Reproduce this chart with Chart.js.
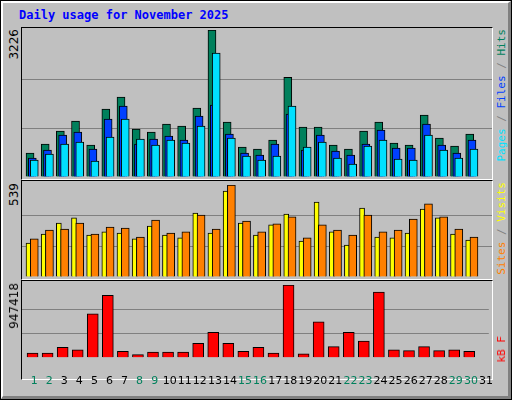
<!DOCTYPE html>
<html><head><meta charset="utf-8">
<script src="https://cdn.jsdelivr.net/npm/chart.js@4"></script>
<style>
  body { margin:0; background:#fff; }
  #wrap { position:relative; width:510px; height:398px; background:#c0c0c0; border:1px solid #000; overflow:hidden; }
  #wrap:before { content:''; position:absolute; left:0; top:0; right:0; bottom:0; border-top:2px solid #fff; border-left:2px solid #fff; border-right:3px solid #808080; border-bottom:3px solid #808080; pointer-events:none; }
  .title { position:absolute; left:18px; top:7px; font:bold 12px "DejaVu Sans Mono", monospace; color:#0000ff; }
  .panel { position:absolute; left:20px; width:470px; border-top:1px solid #000; border-left:1px solid #000; border-right:1px solid #fff; border-bottom:1px solid #fff; }
  canvas { position:absolute; }
  .ylab { position:absolute; left:6px; font:12px "DejaVu Sans", sans-serif; color:#000; writing-mode:vertical-rl; transform:rotate(180deg); }
  .rlab { position:absolute; left:494px; font:11px "DejaVu Sans Mono", monospace; writing-mode:vertical-rl; transform:rotate(180deg); white-space:nowrap; }
</style></head>
<body>
<div id="wrap">
  <div class="title">Daily usage for November 2025</div>
  <div class="panel" style="top:26px;height:151px"></div>
  <div class="panel" style="top:179px;height:98px"></div>
  <div class="panel" style="top:279px;height:98px"></div>
  <canvas id="c1" style="left:21px;top:29px;width:470px;height:147px"></canvas>
  <canvas id="c2" style="left:21px;top:184px;width:470px;height:92px"></canvas>
  <canvas id="c3" style="left:11px;top:284px;width:490px;height:112px"></canvas>
  <div class="ylab" style="top:28px">3226</div>
  <div class="ylab" style="top:182px">539</div>
  <div class="ylab" style="top:282px">947418</div>
  <div class="rlab" style="top:28px"><span style="color:#00e0ff">Pages</span><span style="color:#808080"> / </span><span style="color:#0040ff">Files</span><span style="color:#808080"> / </span><span style="color:#00805c">Hits</span></div>
  <div class="rlab" style="top:181px"><span style="color:#ff8000">Sites</span><span style="color:#808080"> / </span><span style="color:#ffff00">Visits</span></div>
  <div class="rlab" style="top:335px"><span style="color:#ff0000">kB F</span></div>
</div>
<script>
const days = Array.from({length: 31}, (_, i) => i + 1);
const weekendDays = [1, 2, 8, 9, 15, 16, 22, 23, 29, 30];
const hits  = [527,724,1009,1229,702,1492,1756,1053,988,1163,1119,1514,3226,1207,658,614,812,2187,1097,1097,702,614,1009,1207,746,702,1361,856,680,944];
const files = [417,593,922,988,614,1273,1558,724,834,900,812,1339,1580,944,527,483,724,1383,593,922,571,483,724,1031,636,636,1163,702,527,812];
const pages = [373,505,724,768,351,878,1273,834,702,812,746,1119,2721,856,461,373,461,1558,658,768,417,285,680,812,395,373,922,593,417,614];
const visits = [199,252,316,346,246,264,258,223,299,246,229,375,258,504,316,246,305,369,211,439,264,187,404,234,229,258,398,346,252,217];
const sites  = [223,275,281,316,252,293,287,234,334,258,264,363,281,539,328,264,311,352,229,305,275,246,363,264,275,340,428,352,281,234];
const kbytes = [62000,62000,135000,104000,573000,812000,83000,42000,73000,73000,73000,187000,333000,187000,83000,135000,62000,947418,52000,468000,146000,333000,219000,854000,104000,94000,146000,94000,104000,83000];
const yMax = [3226, 539, 947418];

const pts = (arr, off) => arr.map((v, i) => ({x: i + 1 + off, y: v}));
// lower order is drawn on top, so the front bar of each group gets order 0
const ds = (label, arr, off, color, w, order) => ({label, data: pts(arr, off), backgroundColor: color, borderColor: '#000', borderWidth: 1, borderSkipped: 'bottom', barThickness: w, grouped: false, order});

function makeChart(id, datasets, max, showX) {
  new Chart(document.getElementById(id), {
    type: 'bar',
    data: { datasets },
    options: {
      animation: false, responsive: false, maintainAspectRatio: false,
      layout: { padding: showX ? {left: 10, right: 10, top: 0, bottom: 0} : 0 },
      plugins: { legend: { display: false }, tooltip: { enabled: false } },
      scales: {
        x: {
          type: 'linear', min: 0.19, max: 31.19, offset: false,
          display: showX,
          grid: { display: false }, border: { display: false },
          afterBuildTicks: ax => { ax.ticks = days.map(d => ({value: d})); },
          ticks: {
            autoSkip: false, maxRotation: 0, padding: 9,
            font: { family: 'DejaVu Sans', size: 11 },
            color: c => weekendDays.includes(c.tick.value) ? '#00805c' : '#000',
            callback: v => String(v)
          }
        },
        y: {
          min: 0, max, ticks: { display: false, stepSize: max / 3 },
          border: { display: false },
          grid: { drawTicks: false, color: c => (c.tick.value > 0 && c.tick.value < max - 1) ? '#808080' : 'rgba(0,0,0,0)' }
        }
      }
    }
  });
}
function size(id) { const c = document.getElementById(id); c.width = parseInt(c.style.width); c.height = parseInt(c.style.height); }
['c1','c2','c3'].forEach(size);

makeChart('c1', [
  ds('Hits', hits, -0.28, '#00805c', 8, 2),
  ds('Files', files, -0.13, '#0040ff', 8, 1),
  ds('Pages', pages, 0, '#00e0ff', 8, 0)
], yMax[0], false);
makeChart('c2', [
  ds('Visits', visits, -0.38, '#ffff00', 5, 1),
  ds('Sites', sites, 0, '#ff8000', 8, 0)
], yMax[1], false);
makeChart('c3', [
  ds('kB F', kbytes, -0.11, '#ff0000', 11, 0)
], yMax[2], true);
</script>
</body></html>
